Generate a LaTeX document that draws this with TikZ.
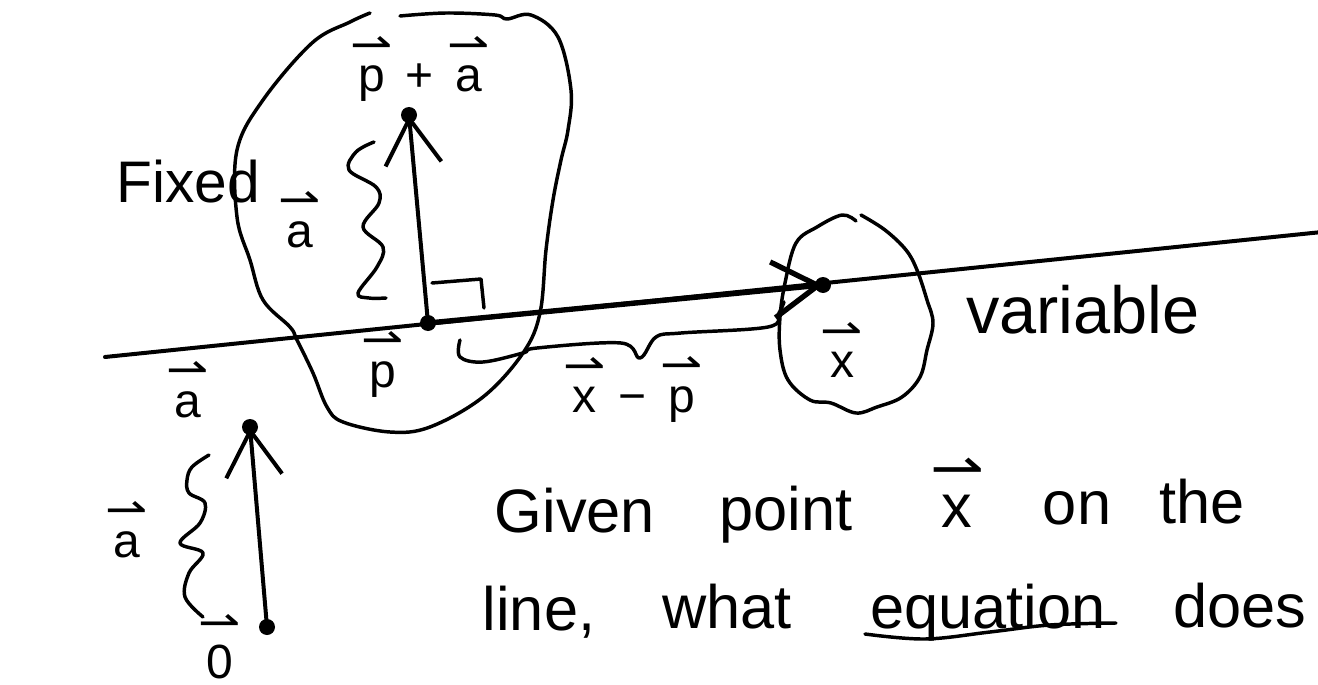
\documentclass[tikz,border=0pt]{standalone}
\usepackage{amsmath}
\usepackage{fontspec}
\setmainfont{Liberation Sans}
\newfontfamily\arrfont{DejaVu Sans}
\usetikzlibrary{arrows.meta}
\newcommand{\hv}[1]{\ensuremath{\overset{\text{\scalebox{1.5}[1.3]{\arrfont ⇀}}}{\text{#1}}}}
\begin{document}
\begin{tikzpicture}[x=0.75pt,y=-0.75pt,
  pen/.style={line width=3pt,line cap=round,line join=round},
  thinpen/.style={line width=2.6pt,line cap=round,line join=round},
  dot/.style={circle,fill=black,inner sep=0pt,minimum size=12pt},
  lbl/.style={font=\fontsize{36}{40}\selectfont,inner sep=0pt,anchor=base},
  txt/.style={font=\fontsize{46}{52}\selectfont,inner sep=0pt,anchor=base},
  barb/.style={-{Straight Barb[length=34pt,width=42pt]}}]
\useasboundingbox (0,0) rectangle (1318,685);
\fill[white] (0,0) rectangle (1318,685);

% the line
\coordinate (L1) at (105,357);
\coordinate (L2) at (1322,232);
\draw[pen] (L1) -- (L2);

% fixed region
\draw[thinpen] plot[smooth,tension=0.6] coordinates {(400,16) (446,13) (495,15) (507,19) (531,15) (558,37) (571,90) (568,130) (561,160) (553,200) (546,250) (540,313) (523,353) (483,397) (430,427) (390,432) (343,422) (327,407) (313,373) (297,340) (290,327) (263,300) (250,260) (237,217) (237,150) (263,100) (312,43) (350,22) (370,13)};

% variable region
\draw[thinpen] plot[smooth,tension=0.6] coordinates {(861,215) (885,230) (906,250) (917,270) (927,300) (933,323) (927,350) (920,377) (902,397) (877,407) (856,413) (831,403) (810,400) (788,380) (780,350) (780,317) (785,283) (796,243) (817,227) (842,215) (856,221)};

% points
\node[dot] (P) at (428,323) {};
\node[dot] (X) at (823,285) {};
\node[dot] (Q) at (409,115) {};
\node[dot] (A) at (250,427) {};
\node[dot] (O) at (267,627) {};

% arrows
\draw[pen,barb] (P.center) -- (Q.center);
\draw[pen,line width=4pt,barb] (P.center) -- (X.center);
\draw[pen,barb] (O.center) -- (A.center);

% right angle mark
\draw[thinpen] (432,283) -- (481,279) -- (484,308);

% braces
\draw[thinpen] plot[smooth,tension=0.6] coordinates {(374,142) (356,152) (349,170) (376,187) (379,203) (363,227) (383,247) (377,267) (358,293) (369,298) (386,298)};
\draw[thinpen] plot[smooth,tension=0.6] coordinates {(460,340) (460,357) (483,362) (523,353) (537,348) (621,343) (640,358) (656,337) (681,333) (768,327) (779,313) (784,302)};
\draw[thinpen] plot[smooth,tension=0.6] coordinates {(209,455) (192,467) (187,480) (189,493) (205,503) (200,523) (180,543) (203,553) (189,573) (185,597) (203,617)};

% labels
\node[lbl] (lpa) at (420,92) {\hv{p} + \hv{a}};
\node[lbl] (la1) at (300,247) {\hv{a}};
\node[lbl] (lp) at (383,387) {\hv{p}};
\node[lbl] (lxp) at (633,412) {\hv{x} − \hv{p}};
\node[lbl] (lx) at (842,377) {\hv{x}};
\node[lbl] (la2) at (188,417) {\hv{a}};
\node[lbl] (la3) at (127,557) {\hv{a}};
\node[lbl] (l0) at (220,678) {\hv{0}};

\node[txt,font=\fontsize{44}{50}\selectfont] (fixed) at (188,202) {Fixed};
\node[txt,font=\fontsize{50}{56}\selectfont] (variable) at (1083,333) {variable};

% question
\node[txt] (w1) at (575,532) {Given};
\node[txt] (w2) at (786,530) {point};
\node[txt] (w3) at (957,527) {\hv{x}};
\node[txt] (w4) at (1077,524) {on};
\node[txt] (w5) at (1202,523) {the};
\node[txt] (w6) at (539,630) {line,};
\node[txt] (w7) at (727,628) {what};
\node[txt] (w8) at (988,628) {equation};
\node[txt] (w9) at (1240,627) {does};
\draw[thinpen] plot[smooth,tension=0.6] coordinates {(865,634) (925,639) (990,632) (1050,625) (1116,623)};
\end{tikzpicture}
\end{document}
